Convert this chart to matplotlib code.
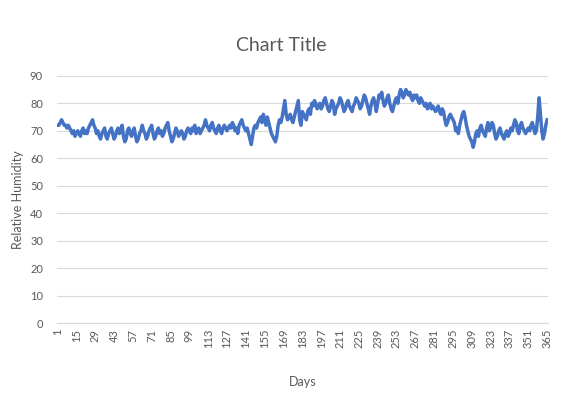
import matplotlib
matplotlib.use("Agg")
import matplotlib.pyplot as plt
import numpy as np

plt.rcParams['font.family'] = ['Lato', 'DejaVu Sans']

# Daily relative humidity readings, day 1 to 365
days = list(range(1, 366))
humidity = [
    72, 72, 73, 74, 73, 72, 72, 71, 72, 71, 70, 69, 70, 68,
    69, 70, 69, 68, 70, 71, 69, 70, 69, 71, 72, 73, 74, 72,
    71, 69, 70, 68, 67, 69, 70, 71, 68, 67, 69, 70, 71, 69,
    67, 68, 70, 71, 69, 70, 72, 68, 66, 67, 70, 71, 69, 68,
    70, 71, 68, 66, 67, 69, 70, 72, 70, 69, 67, 68, 70, 71,
    72, 69, 67, 68, 70, 71, 69, 70, 68, 69, 71, 72, 73, 70,
    68, 66, 67, 69, 71, 70, 68, 69, 70, 69, 67, 68, 70, 71,
    70, 69, 71, 70, 72, 69, 70, 71, 69, 70, 71, 72, 74, 72,
    71, 70, 72, 73, 71, 70, 69, 71, 72, 70, 69, 71, 72, 71,
    70, 71, 72, 71, 73, 72, 70, 71, 69, 72, 73, 74, 72, 71,
    70, 71, 69, 67, 65, 68, 71, 72, 71, 73, 74, 75, 73, 76,
    74, 72, 75, 73, 71, 69, 68, 67, 66, 68, 72, 74, 73, 75,
    78, 81, 76, 74, 75, 76, 74, 73, 75, 77, 79, 81, 74, 72,
    77, 76, 75, 74, 77, 78, 76, 80, 79, 81, 80, 78, 79, 80,
    78, 79, 81, 82, 80, 78, 77, 79, 81, 80, 76, 78, 79, 80,
    82, 81, 79, 77, 78, 80, 81, 79, 78, 77, 79, 80, 82, 81,
    80, 78, 79, 81, 83, 82, 80, 78, 76, 79, 81, 82, 80, 77,
    80, 83, 82, 84, 81, 79, 80, 82, 83, 80, 78, 77, 79, 81,
    82, 80, 83, 85, 84, 82, 83, 85, 84, 83, 84, 82, 81, 83,
    82, 83, 81, 80, 82, 81, 80, 79, 80, 78, 79, 80, 78, 79,
    78, 77, 78, 79, 77, 76, 78, 77, 74, 72, 73, 75, 76, 75,
    74, 73, 70, 71, 69, 72, 74, 76, 77, 75, 72, 70, 68, 67,
    66, 64, 66, 69, 70, 68, 71, 72, 70, 69, 68, 71, 73, 70,
    71, 73, 72, 69, 67, 68, 70, 71, 69, 68, 67, 69, 70, 68,
    69, 71, 70, 72, 74, 73, 70, 69, 72, 73, 71, 70, 69, 70,
    71, 70, 72, 73, 71, 69, 70, 75, 82, 76, 70, 67, 69, 72,
    74,
]
x_ticks = list(range(1, 366, 14))
y_ticks = list(range(0, 91, 10))

text_color = '#595959'

fig = plt.figure(figsize=(5.63, 3.97), dpi=100)
ax = fig.add_axes([0.101, 0.186, 0.872, 0.623])

ax.plot(days, humidity, color='#4472C4', linewidth=2.5, solid_joinstyle='round')

ax.set_xlim(0.5, 365.5)
ax.set_ylim(0, 90)
ax.set_yticks(y_ticks)
ax.set_xticks(x_ticks)
ax.set_xticklabels([str(t) for t in x_ticks], rotation=90)
ax.tick_params(axis='both', length=0, colors=text_color, labelsize=8)
ax.tick_params(axis='x', pad=4)
ax.tick_params(axis='y', pad=10)

ax.grid(axis='y', color='#D9D9D9', linewidth=0.8)
ax.set_axisbelow(True)
for side in ('top', 'right', 'left'):
    ax.spines[side].set_visible(False)
ax.spines['bottom'].set_color('#D9D9D9')
ax.spines['bottom'].set_linewidth(0.8)

ax.set_xlabel('Days', color=text_color, fontsize=9, labelpad=20)
ax.set_ylabel('Relative Humidity', color=text_color, fontsize=9, labelpad=4)
fig.text(0.5, 0.885, 'Chart Title', ha='center', va='center', color=text_color, fontsize=14)

fig.savefig('out.png', dpi=100, facecolor='white')
